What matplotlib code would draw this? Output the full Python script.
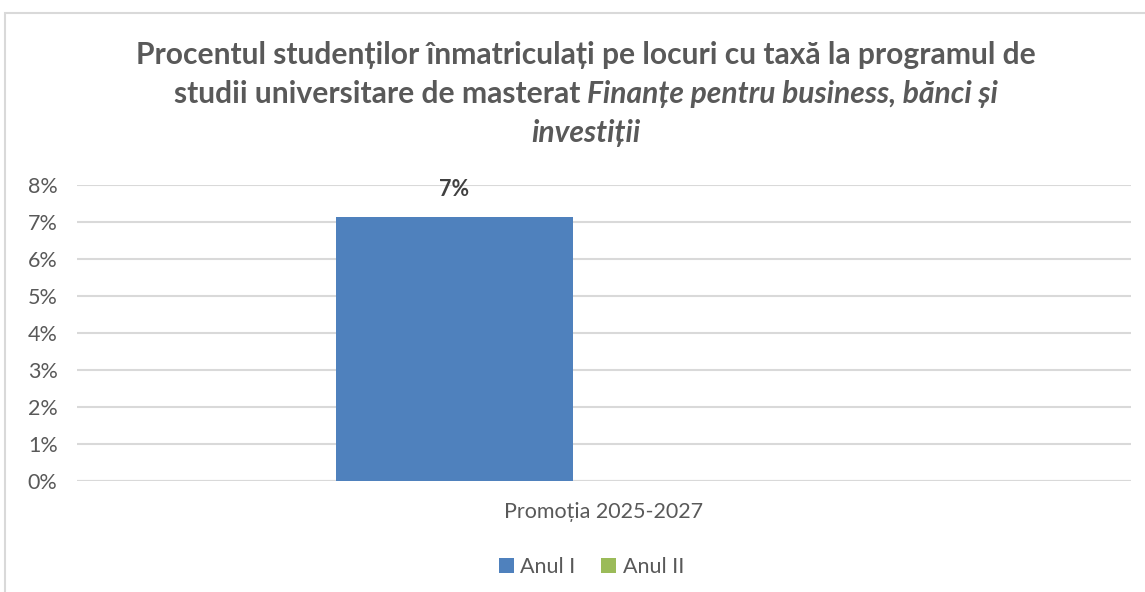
import matplotlib.pyplot as plt
import matplotlib.patches as mpatches
import numpy as np

plt.rcParams['font.family'] = ['Lato', 'DejaVu Sans']

categorii = ["Promoția 2025-2027"]
serii = ["Anul I", "Anul II"]
valori = {"Anul I": [7.14], "Anul II": [0.0]}
culori = {"Anul I": "#4f81bd", "Anul II": "#9bbb59"}
yticks = [0, 1, 2, 3, 4, 5, 6, 7, 8]
eticheta_bara = "7%"

W, H = 1145, 592
fig = plt.figure(figsize=(W / 100, H / 100), dpi=100)

# chenarul graficului
fig.patches.append(mpatches.Rectangle((4.5 / W, -0.1), 1.2, 1 - 13 / H + 0.1,
                                      transform=fig.transFigure, fill=False,
                                      edgecolor="#d9d9d9", lw=1.5))

ax = fig.add_axes([77 / W, 1 - 481 / H, (1131 - 77) / W, (481 - 185) / H])
x = np.arange(len(categorii))
latime = 237 / 1054
decalaj = 0.142
for i, s in enumerate(serii):
    off = (2 * i - 1) * decalaj
    ax.bar(x + off, valori[s], width=latime, color=culori[s], label=s, zorder=3)

ax.text(x[0] - decalaj, valori["Anul I"][0] + 0.73, eticheta_bara,
        ha="center", va="center", fontsize=15.5, fontweight="bold", color="#404040")

fs_ax = 15.5
ax.set_xlim(-0.5, 0.5)
ax.set_ylim(0, 8)
ax.set_yticks(yticks)
ax.set_yticklabels([f"{t}%" for t in yticks], fontsize=fs_ax, color="#595959")
ax.set_xticks(x)
ax.set_xticklabels(categorii, fontsize=fs_ax, color="#595959")
ax.tick_params(axis="y", length=0, pad=14)
ax.tick_params(axis="x", length=0, pad=15)
ax.grid(axis="y", color="#d9d9d9", lw=1.5, zorder=0)
for sp in ax.spines.values():
    sp.set_visible(False)
ax.axhline(0, color="#d9d9d9", lw=1.5, zorder=2)

leg = ax.legend(loc="upper center", bbox_to_anchor=(0.488, -0.19), ncol=2,
                frameon=False, fontsize=fs_ax, handlelength=0.7, handleheight=0.7,
                handletextpad=0.3, columnspacing=1.2)
for t in leg.get_texts():
    t.set_color("#595959")

# titlul, cu partea in italic
cul_titlu = "#595959"
fs = 21.6
cx = 586 / W
renderer = fig.canvas.get_renderer()

fig.text(cx, 1 - 64 / H, "Procentul studenților înmatriculați pe locuri cu taxă la programul de",
         ha="center", va="baseline", fontsize=fs, fontweight="bold", color=cul_titlu)

p1 = "studii universitare de masterat "
p2 = "Finanțe pentru business, bănci și"
t1 = fig.text(0, 1 - 103 / H, p1, ha="left", va="baseline", fontsize=fs,
              fontweight="bold", color=cul_titlu)
t2 = fig.text(0, 1 - 103 / H, p2, ha="left", va="baseline", fontsize=fs,
              fontweight="bold", fontstyle="italic", color=cul_titlu)
w1 = t1.get_window_extent(renderer).width
w2 = t2.get_window_extent(renderer).width
start = cx * W - (w1 + w2) / 2
t1.set_x(start / W)
t2.set_x((start + w1) / W)

fig.text(cx, 1 - 142 / H, "investiții", ha="center", va="baseline", fontsize=fs,
         fontweight="bold", fontstyle="italic", color=cul_titlu)

fig.savefig("out.png", dpi=100)
